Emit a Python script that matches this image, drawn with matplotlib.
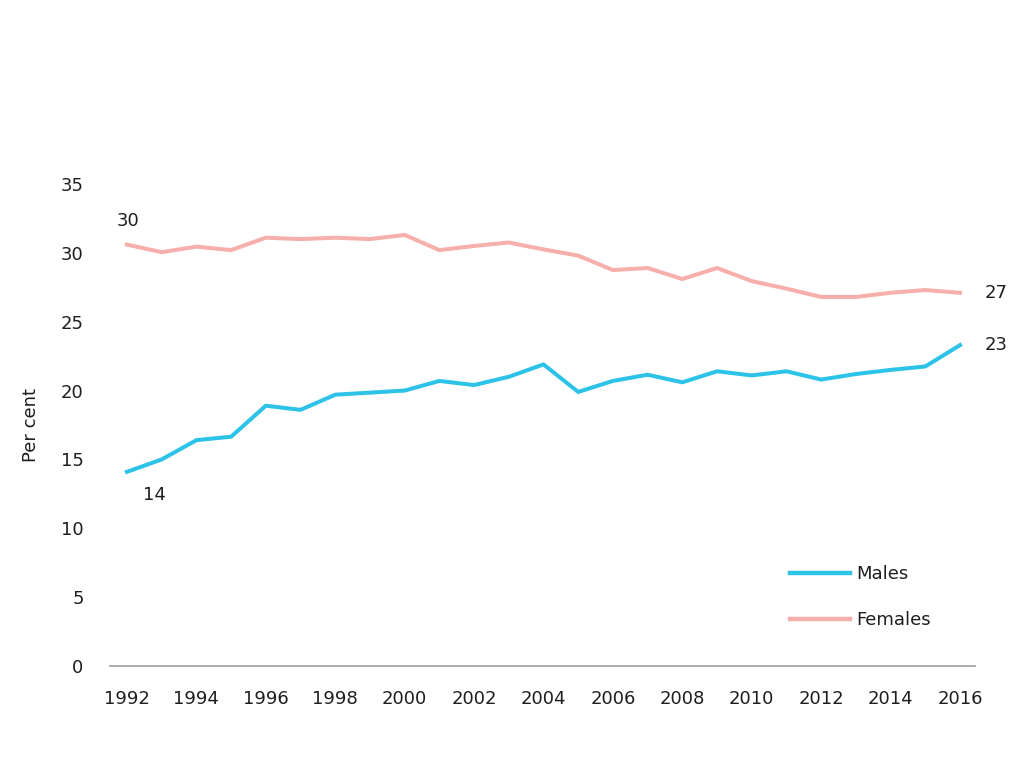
import matplotlib
matplotlib.use("Agg")
import matplotlib.pyplot as plt

years = list(range(1992, 2017))
males = [14.1, 15.0, 16.4, 16.65, 18.9, 18.6, 19.7, 19.85, 20.0, 20.7, 20.4, 21.0, 21.9,
         19.9, 20.7, 21.15, 20.6, 21.4, 21.1, 21.4, 20.8, 21.2, 21.5, 21.75, 23.3]
females = [30.6, 30.05, 30.45, 30.2, 31.1, 31.0, 31.1, 31.0, 31.3, 30.2, 30.5, 30.75, 30.25,
           29.8, 28.75, 28.9, 28.1, 28.9, 27.95, 27.4, 26.8, 26.8, 27.1, 27.3, 27.1]
xtick_years = list(range(1992, 2017, 2))
yticks = [0, 5, 10, 15, 20, 25, 30, 35]
series_names = ["Males", "Females"]
end_labels = {"Males": ("14", "23"), "Females": ("30", "27")}

male_color = "#2DC3E8"
female_color = "#F6AFAA"
text_color = "#1E1E1E"

plt.rcParams['font.family'] = ['DejaVu Sans']
FS = 13

fig = plt.figure(figsize=(10.23, 7.67), dpi=100)
ax = fig.add_axes([110/1023, 1 - 666/767, 865/1023, (666-184)/767])

ax.plot(years, males, color=male_color, lw=2.9, label=series_names[0], solid_joinstyle='round')
ax.plot(years, females, color=female_color, lw=2.9, label=series_names[1], solid_joinstyle='round')

ax.set_ylim(0, 35)
ax.set_xlim(1992 - 17/34.7, 2016 + 15/34.7)
ax.set_yticks(yticks)
ax.set_xticks(xtick_years)
ax.set_xticklabels([str(y) for y in xtick_years])

for s in ['top', 'right', 'left']:
    ax.spines[s].set_visible(False)
ax.spines['bottom'].set_color('#A6A6A6')
ax.spines['bottom'].set_linewidth(1.3)
ax.tick_params(axis='y', length=0, pad=19, labelsize=FS, labelcolor=text_color)
ax.tick_params(axis='x', length=0, pad=17, labelsize=FS, labelcolor=text_color)

ax.set_ylabel("Per cent", fontsize=FS, color=text_color)
ax.yaxis.set_label_coords(-70/865, 0.5)

# end labels
ax.annotate(end_labels["Females"][0], xy=(years[0], females[0]), xytext=(1, 17),
            textcoords='offset points', ha='center', va='center', fontsize=FS, color=text_color)
ax.annotate(end_labels["Males"][0], xy=(years[0], males[0]), xytext=(20, -17),
            textcoords='offset points', ha='center', va='center', fontsize=FS, color=text_color)
ax.annotate(end_labels["Females"][1], xy=(years[-1], females[-1]), xytext=(18, 0),
            textcoords='offset points', ha='left', va='center', fontsize=FS, color=text_color)
ax.annotate(end_labels["Males"][1], xy=(years[-1], males[-1]), xytext=(18, 0),
            textcoords='offset points', ha='left', va='center', fontsize=FS, color=text_color)

leg = ax.legend(loc='upper left', bbox_to_anchor=(790/1023, 1 - 565/767),
                bbox_transform=fig.transFigure, frameon=False, fontsize=FS,
                handlelength=3.3, handletextpad=0.35, labelspacing=1.55, borderpad=0,
                borderaxespad=0)
for t in leg.get_texts():
    t.set_color(text_color)
for h in leg.get_lines():
    h.set_linewidth(3.2)

fig.savefig("out.png", dpi=100)
